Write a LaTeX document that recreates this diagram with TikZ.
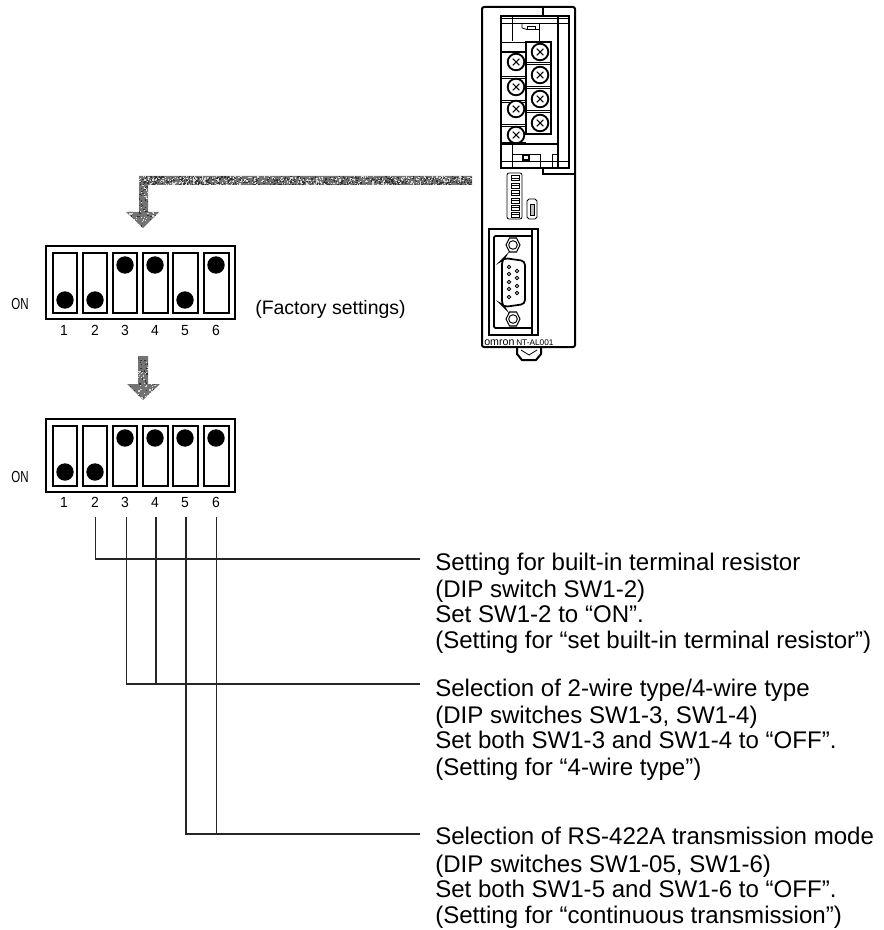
\documentclass[tikz,border=0pt]{standalone}
\usepackage{fontspec}
\setmainfont{Liberation Sans}
\usetikzlibrary{calc}
\tikzset{
 x=.75pt,y=-.75pt,
 thin line/.style={line width=.6pt,black},
 mid line/.style={line width=.9pt,black},
 thick line/.style={line width=1.9pt,black},
 leader/.style={line width=.9pt,black!85},
 leader thin/.style={line width=.55pt,black!85},
 desc/.style={anchor=base west,inner sep=0pt,font=\fontsize{18.05}{20}\selectfont},
 digit/.style={anchor=base,inner sep=0pt,font=\fontsize{11}{12}\selectfont,xscale=.95,transform shape},
 onlabel/.style={anchor=base,inner sep=0pt,font=\fontsize{12}{14}\selectfont,xscale=.72,transform shape},
 factory/.style={anchor=base west,inner sep=0pt,font=\fontsize{14.6}{16}\selectfont},
 dipbox/.style={line width=1.2pt,black},
 slotbox/.style={line width=1.1pt,black},
}
\newcommand{\dipbank}[2]{%
  \draw[dipbox] (46,#1) rectangle (235,#1+73);
  \foreach \xa/\xb/\cx/\st [count=\n] in {#2}{
    \draw[slotbox] (\xa,#1+7) rectangle (\xb,#1+67);
    \fill (\cx,#1+\st) circle (8.7);
  }}
\newcommand{\screw}[2]{%
  \draw[line width=1.4pt,fill=white] (#1,#2) circle (8.3);
  \draw[line width=.8pt] (#1-3.3,#2-3.3) -- (#1+3.3,#2+3.3) (#1-3.3,#2+3.3) -- (#1+3.3,#2-3.3);}
\newcommand{\hexscrew}[2]{%
  \draw[line width=.8pt] (#1-7,#2) -- (#1-3.5,#2-7) -- (#1+3.5,#2-7) -- (#1+7,#2) -- (#1+3.5,#2+7) -- (#1-3.5,#2+7) -- cycle;
  \draw[line width=.7pt] (#1,#2) circle (4.3);}
\newcommand{\specks}[5]{%
  \foreach \k in {1,...,#5}{
    \pgfmathsetmacro\ax{#1+#3*rnd}\pgfmathsetmacro\ay{#2+#4*rnd}
    \fill[black!80] (\ax,\ay) rectangle ++(1.3,1.3);
    \pgfmathsetmacro\ax{#1+#3*rnd}\pgfmathsetmacro\ay{#2+#4*rnd}
    \fill[white!85!black] (\ax,\ay) rectangle ++(1.2,1.2);
  }}
\begin{document}
\begin{tikzpicture}
\useasboundingbox (0,0) rectangle (883,930);
\pgfmathsetseed{4242}
% --- grey dithered arrows
\begin{scope}
 \clip (472,176) -- (139,176) -- (139,212) -- (126,212) -- (143,228) -- (159,212) -- (148,212) -- (148,185) -- (472,185) -- cycle;
 \fill[black!55] (120,170) rectangle (475,230);
 \specks{139}{176}{333}{9}{520}
 \specks{126}{185}{33}{43}{110}
\end{scope}
\begin{scope}
 \clip (138,356) -- (138,384) -- (127,384) -- (143,400) -- (160,384) -- (148,384) -- (148,356) -- cycle;
 \fill[black!55] (120,350) rectangle (165,402);
 \specks{127}{356}{33}{44}{90}
\end{scope}
% --- DIP switch banks
\dipbank{246}{53/77/65/54,83/107/95/54,113/137/125/19,143/168/155/19,173/198/185/54,204/229/216/19}
\dipbank{419}{53/77/65/53,83/107/95/53,113/137/125/19,143/168/155/19,173/198/185/19,204/229/216/19}
\node[onlabel] (on1) at (20,310) {ON};
\node[onlabel] (on2) at (20,482) {ON};
\node[factory] (fact) at (255,314) {(Factory settings)};
\foreach \d/\cx in {1/64,2/95,3/125,4/155,5/185,6/216}{
  \node[digit] (a\d) at (\cx,335) {\d};
  \node[digit] (b\d) at (\cx,507) {\d};
}
% --- leaders
\coordinate (s2) at (95,517);
\coordinate (s3) at (126,517);
\coordinate (s4) at (156,517);
\coordinate (s5) at (186,517);
\coordinate (s6) at (216,517);
\coordinate (e1) at (420,559);
\coordinate (e2) at (420,684);
\coordinate (e3) at (420,834);
\draw[leader thin] (s2) |- (e1);
\draw[leader] (s2 |- e1) -- (e1);
\draw[leader thin] (s3) |- (e2);
\draw[leader] (s3 |- e2) -- (e2);
\draw[leader] (s4) -- (s4 |- e2);
\draw[line width=1.1pt,black!85] (s5) |- (e3);
\draw[leader thin] (s6) -- (s6 |- e3);
% --- text blocks
\node[desc] (t11) at (435,570) {Setting for built-in terminal resistor};
\node[desc] (t12) at (435,597) {(DIP switch SW1-2)};
\node[desc] (t13) at (435,622) {Set SW1-2 to “ON”.};
\node[desc] (t14) at (435,648) {(Setting for “set built-in terminal resistor”)};
\node[desc] (t21) at (435,696) {Selection of 2-wire type/4-wire type};
\node[desc] (t22) at (435,723) {(DIP switches SW1-3, SW1-4)};
\node[desc] (t23) at (435,748) {Set both SW1-3 and SW1-4 to “OFF”.};
\node[desc] (t24) at (435,775) {(Setting for “4-wire type”)};
\node[desc] (t31) at (435,844) {Selection of RS-422A transmission mode};
\node[desc] (t32) at (435,872) {(DIP switches SW1-05, SW1-6)};
\node[desc] (t33) at (435,897) {Set both SW1-5 and SW1-6 to “OFF”.};
\node[desc] (t34) at (435,923) {(Setting for “continuous transmission”)};
% --- device: body
\draw[line width=1.5pt,rounded corners=1.5pt] (482,7) rectangle (575,347);
\draw[thick line] (501,16) rectangle (569,168);
\draw[line width=1.4pt] (543,7) -- (543,16);
\draw[line width=1.4pt] (543,168) -- (543,174) -- (575,174);
% upper detail
\draw[thin line] (501,18) -- (569,18) (501,23) -- (569,23);
\draw[thin line] (512,16) -- (512,41) (501,42) -- (526,42);
\draw[thin line] (539,23) -- (539,42);
\draw[mid line] (558,16) -- (558,168);
\draw[thin line] (522,23) -- (522,28) -- (527,29.5) -- (539,29.5);
\draw[thin line] (527,29.5) -- (527,26) -- (535,26) -- (535,29.5);
% terminal blocks
\draw[mid line] (502,52) -- (526,52);
\draw[mid line] (502,143) -- (526,143);
\draw[mid line] (526,42) rectangle (551,134);
\foreach \yy in {76,100,124}{\draw[thin line] (502,\yy) -- (526,\yy) (502,\yy+2) -- (526,\yy+2);}
\foreach \yy in {62,86,110}{\draw[thin line] (526,\yy) -- (551,\yy) (526,\yy+2) -- (551,\yy+2);}
\foreach \yy in {62,87,109,135}{\screw{516}{\yy}}
\foreach \yy in {52,75,99,123}{\screw{540}{\yy}}
% lower detail
\draw[mid line] (501,144) -- (558,144);
\draw[thin line] (512,144) -- (512,168);
\draw[thin line] (512,154) -- (540,154) -- (540,168);
\draw[thin line] (552,168) -- (552,154) -- (558,154);
\draw[thin line] (501,161) -- (569,161);
\draw[mid line] (523,155) rectangle (529,160);
% DIP on device
\draw[thin line,rounded corners=1.5pt] (507,173) rectangle (522,219);
\foreach \yy in {175.5,183,190.5,198,205,212}{
  \draw[thin line] (511,\yy) rectangle (519,\yy+5);
  \draw[thin line] (511,\yy+2.5) -- (519,\yy+2.5);
}
% small switch
\draw[thin line] (527,201) -- (529,199) -- (535,199) -- (537,201) -- (537,217) -- (535,219) -- (529,219) -- (527,217) -- cycle;
\draw[thin line,fill=black!25] (530,204) rectangle (534,215);
% connector panel
\draw[mid line] (489,229) rectangle (538,335);
\draw[line width=1.3pt,rounded corners=1pt] (532,236) -- (494,236) -- (494,328) -- (532,328);
\draw[mid line] (532,229) -- (532,335);
\hexscrew{513}{245}
\hexscrew{513}{319}
\draw[line width=1.3pt,rounded corners=3pt] (504,258) -- (525,261) -- (525,304) -- (504,307) -- (502,305) -- (502,260) -- cycle;
\foreach \yy in {267,274,282,289,297}{\draw[line width=.7pt] (509,\yy) circle (1.8);}
\foreach \yy in {271,278,286,293}{\draw[line width=.7pt] (517,\yy) circle (1.8);}
% label
\node[inner sep=0pt,anchor=base west,font=\fontsize{8}{10}\selectfont] (brand) at (484,345) {omron};
\node[inner sep=0pt,anchor=base west,font=\fontsize{6.2}{8}\selectfont] (model) at (516,345) {NT-AL001};
% hook
\draw[line width=1.5pt] (517,347) -- (517,354) -- (522,360) -- (536,360) -- (541,354) -- (541,347);
\draw[thin line] (521,350) -- (529,355) -- (537,350);
\end{tikzpicture}
\end{document}
